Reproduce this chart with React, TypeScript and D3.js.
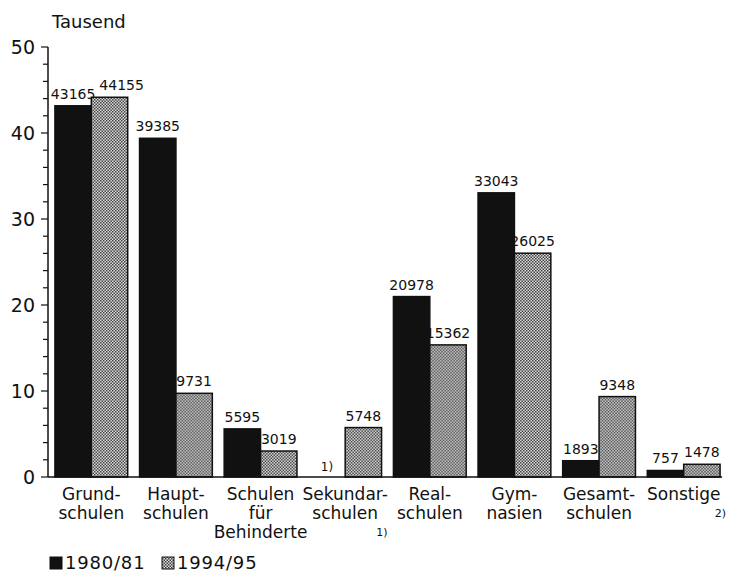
import React from "react";
import * as d3 from "d3";

const categories: string[][] = [
  ["Grund-", "schulen"],
  ["Haupt-", "schulen"],
  ["Schulen", "für", "Behinderte"],
  ["Sekundar-", "schulen"],
  ["Real-", "schulen"],
  ["Gym-", "nasien"],
  ["Gesamt-", "schulen"],
  ["Sonstige"],
];
const seriesNames = ["1980/81", "1994/95"];
const values1980: (number | null)[] = [43165, 39385, 5595, null, 20978, 33043, 1893, 757];
const values1994: (number | null)[] = [44155, 9731, 3019, 5748, 15362, 26025, 9348, 1478];
const yTicks = [0, 10, 20, 30, 40, 50];
const missingNote = "1)";
const categoryNotes = [
  { index: 3, text: "1)", line: 2 },
  { index: 7, text: "2)", line: 1 },
];
const unitLabel = "Tausend";

const W = 735;
const H = 576;
const FONT = "'DejaVu Sans', sans-serif";
const LABEL_SIZE = 14;

function textW(s: string) {
  return s.length * 0.636 * LABEL_SIZE;
}

export default function App() {
  const x0 = d3.scaleBand<number>()
    .domain(d3.range(categories.length))
    .range([49, 726])
    .paddingInner(0.14)
    .paddingOuter(0.07);
  const x1 = d3.scaleBand<number>()
    .domain([0, 1])
    .range([0, x0.bandwidth()])
    .padding(0);
  const y = d3.scaleLinear().domain([0, 50]).range([477, 47]);
  const minor = d3.range(0, 51, 2);
  const series = [values1980, values1994];
  const axisX = 48;

  return (
    <svg width={W} height={H} style={{ position: "absolute", left: 0, top: 0, background: "#fff" }} fontFamily={FONT}>
      <defs>
        <pattern id="checker" width="3" height="3" patternUnits="userSpaceOnUse">
          <rect width="3" height="3" fill="#e2e2e2" />
          <rect x="0" y="0" width="1.5" height="1.5" fill="#3c3c3c" />
          <rect x="1.5" y="1.5" width="1.5" height="1.5" fill="#3c3c3c" />
        </pattern>
      </defs>

      {/* unit label */}
      <text x={52} y={28} fontSize={18} fill="#111">{unitLabel}</text>

      {/* y axis */}
      <line x1={axisX} x2={axisX} y1={y(50)} y2={y(0)} stroke="#111" strokeWidth={1.5} />
      {minor.map((t) => (
        <line key={"m" + t} x1={axisX - (t % 10 === 0 ? 7 : 5)} x2={axisX} y1={y(t)} y2={y(t)} stroke="#111" strokeWidth={1.2} />
      ))}
      {yTicks.map((t) => (
        <text key={"t" + t} x={35} y={y(t)} dy="0.36em" fontSize={19} textAnchor="end" fill="#111">{t}</text>
      ))}

      {/* bars */}
      {categories.map((_, i) => {
        const bw = x1.bandwidth();
        // label positions with simple collision avoidance
        const labels = series.map((vals, s) => {
          const v = vals[i];
          if (v === null) return null;
          const top = y(v / 1000);
          return { s, v, top, cx: x1(s)! + bw / 2, w: textW(String(v)) };
        });
        const a = labels[0], b = labels[1];
        if (a && b && Math.abs(a.top - b.top) < 14) {
          const minCx = a.cx + a.w / 2 + b.w / 2 + 4;
          if (b.cx < minCx) b.cx = minCx;
        }
        return (
          <g key={"g" + i} transform={`translate(${x0(i)},0)`}>
            {series.map((vals, s) => {
              const v = vals[i];
              const bx = x1(s)!;
              if (v === null) {
                return (
                  <text key={s} x={bx + bw / 2} y={y(0) - 6} fontSize={12} textAnchor="middle" fill="#111">{missingNote}</text>
                );
              }
              const top = y(v / 1000);
              const lab = labels[s]!;
              return (
                <g key={s}>
                  <rect x={bx} y={top} width={bw} height={y(0) - top}
                    fill={s === 0 ? "#111" : "url(#checker)"} stroke="#111" strokeWidth={1.5} />
                  <text x={lab.cx} y={top - 7} fontSize={LABEL_SIZE} textAnchor="middle" fill="#111">{v}</text>
                </g>
              );
            })}
          </g>
        );
      })}

      {/* x axis baseline */}
      <line x1={axisX} x2={x0(categories.length - 1)! + x0.bandwidth() + 2} y1={y(0)} y2={y(0)} stroke="#111" strokeWidth={1.5} />

      {/* category labels */}
      {categories.map((lines, i) => (
        <text key={"c" + i} x={x0(i)! + x0.bandwidth() / 2} y={500} fontSize={17} textAnchor="middle" fill="#111">
          {lines.map((l, k) => (
            <tspan key={k} x={x0(i)! + x0.bandwidth() / 2} y={500 + k * 19}>{l}</tspan>
          ))}
        </text>
      ))}
      {categoryNotes.map((n) => (
        <text key={"n" + n.index} x={x0(n.index)! + x0.bandwidth() + 6} y={500 + n.line * 19 - 2} fontSize={11} textAnchor="end" fill="#111">{n.text}</text>
      ))}

      {/* legend */}
      {seriesNames.map((name, s) => {
        const lx = 50 + s * 112;
        return (
          <g key={"l" + s}>
            <rect x={lx} y={557} width={12} height={12} fill={s === 0 ? "#111" : "url(#checker)"} stroke="#111" strokeWidth={1} />
            <text x={lx + 15} y={569} fontSize={18} letterSpacing={0.8} fill="#111">{name}</text>
          </g>
        );
      })}
    </svg>
  );
}
